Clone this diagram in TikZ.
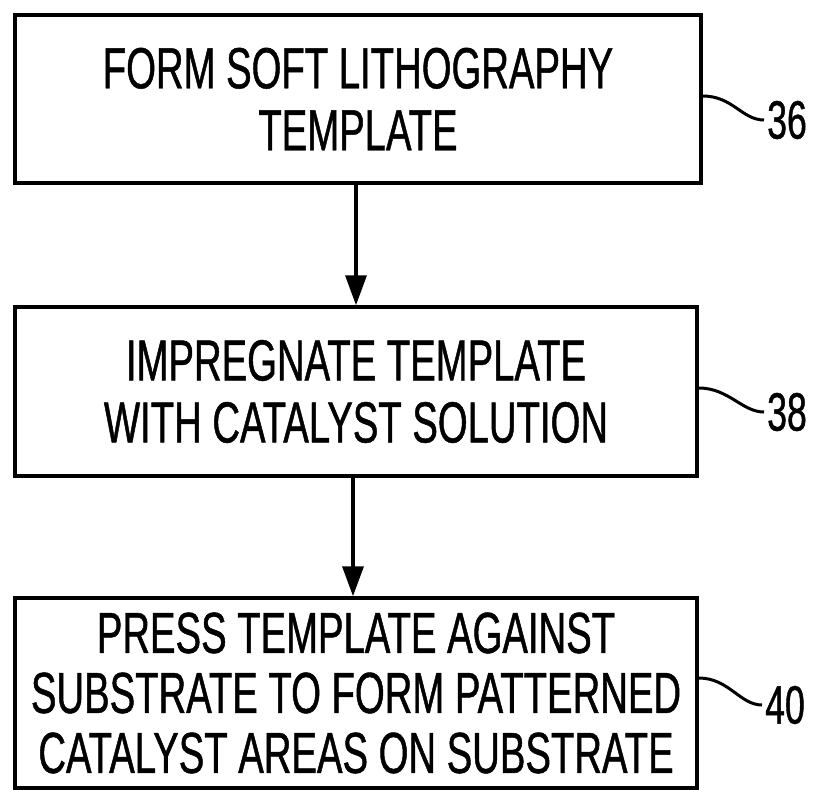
\documentclass[tikz,border=0pt]{standalone}
\usepackage{fontspec}
\setmainfont{Liberation Sans}[FakeStretch=0.66,FakeBold=0.8]
\usetikzlibrary{arrows.meta,calc}
\begin{document}
\begin{tikzpicture}[x=1pt,y=-1pt,
  stepbox/.style={draw,line width=3.5pt,align=center,inner sep=0pt,font=\fontsize{58}{62}\selectfont},
  flow/.style={line width=3.5pt,-{Triangle[length=30pt,width=21pt]}},
  lead/.style={line width=3pt},
  reflabel/.style={anchor=west,inner sep=0pt,font=\fontsize{54}{54}\selectfont}]
\useasboundingbox (0,0) rectangle (815,790);
\node[stepbox,minimum width=686pt,minimum height=168pt] (b1) at (358,99) {FORM SOFT LITHOGRAPHY\\TEMPLATE};
\node[stepbox,minimum width=682pt,minimum height=169pt] (b2) at (356,391.5) {IMPREGNATE TEMPLATE\\WITH CATALYST SOLUTION};
\node[stepbox,minimum width=682pt,minimum height=190pt,font=\fontsize{58}{60}\selectfont] (b3) at (356,693) {PRESS TEMPLATE AGAINST\\SUBSTRATE TO FORM PATTERNED\\CATALYST AREAS ON SUBSTRATE};
\node[reflabel] (l1) at (767,120) {36};
\node[reflabel] (l2) at (767,412) {38};
\node[reflabel] (l3) at (765,705) {40};
\draw[flow] (b1.south -| 356,0) -- (b2.north);
\draw[flow] (b2.south -| 353,0) -- (b3.north -| 353,0);
\draw[lead] ($(b1.east)+(0,-3)$) .. controls +(30,0) and +(-22,0) .. ($(l1.west)+(-3,0)$);
\draw[lead] ($(b2.east)+(0,-3.5)$) .. controls +(30,0) and +(-22,0) .. ($(l2.west)+(-3,0)$);
\draw[lead] ($(b3.east)+(0,-15)$) .. controls +(30,0) and +(-22,0) .. ($(l3.west)+(-3,0)$);
\end{tikzpicture}
\end{document}
